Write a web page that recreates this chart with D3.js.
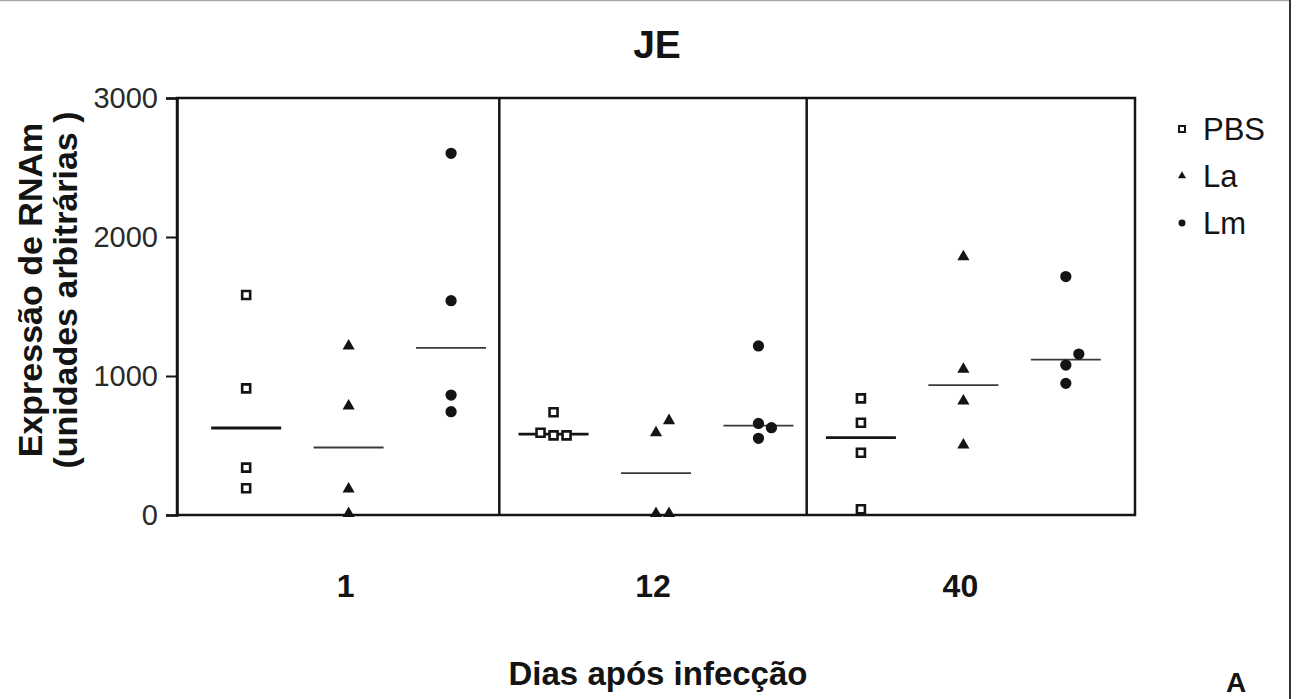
<!DOCTYPE html>
<html>
<head>
<meta charset="utf-8">
<script src="https://cdn.jsdelivr.net/npm/d3@7"></script>
<style>
  html, body { margin: 0; padding: 0; background: #fff; }
  svg { display: block; font-family: "Liberation Sans", Arial, sans-serif; }
</style>
</head>
<body>
<div id="chart"></div>
<script>
// ── Data ────────────────────────────────────────────────────────────────
const days = ["1", "12", "40"];
const groups = ["PBS", "La", "Lm"];
// values per day (1, 12, 40)
const pbsValues = [[1583, 911, 341, 192], [739, 592, 573, 573], [839, 664, 448, 41]];
const laValues  = [[1216, 784, 187, 10], [679, 592, 10, 10], [1858, 1048, 820, 504]];
const lmValues  = [[2602, 1542, 863, 743], [1216, 659, 628, 552], [1715, 1158, 1079, 947]];
const yTicks = [0, 1000, 2000, 3000];

// ── Palette & layout ────────────────────────────────────────────────────
const INK = "#141414";
const W = 1301, H = 699;
const plot = { left: 177, right: 1135, top: 98, bottom: 515 };

const seriesValues = { PBS: pbsValues, La: laValues, Lm: lmValues };
const symbolType = { PBS: d3.symbolSquare, La: d3.symbolTriangle, Lm: d3.symbolCircle };

const svg = d3.select("#chart").append("svg")
  .attr("width", W).attr("height", H);

// figure border (scan frame)
svg.append("line").attr("x1", 0).attr("x2", 1290).attr("y1", 0.5).attr("y2", 0.5)
  .attr("stroke", "#aaa").attr("stroke-width", 1.5);
svg.append("line").attr("x1", 1290).attr("x2", 1290).attr("y1", 0).attr("y2", H)
  .attr("stroke", "#333").attr("stroke-width", 2);

// ── Scales ──────────────────────────────────────────────────────────────
const columns = [];
days.forEach(d => groups.forEach(g => columns.push(d + "|" + g)));

const x = d3.scalePoint().domain(columns)
  .range([plot.left, plot.right]).padding(0.675);

const y = d3.scaleLinear().domain([0, 3000])
  .range([plot.bottom, plot.top]);

// ── Title ───────────────────────────────────────────────────────────────
svg.append("text")
  .attr("x", 657).attr("y", 58)
  .attr("text-anchor", "middle")
  .attr("fill", INK).style("font-size", "39px").style("font-weight", "bold")
  .text("JE");

// ── Plot frame & dividers ───────────────────────────────────────────────
svg.append("rect")
  .attr("x", plot.left).attr("y", plot.top)
  .attr("width", plot.right - plot.left).attr("height", plot.bottom - plot.top)
  .attr("fill", "none").attr("stroke", INK).attr("stroke-width", 2.5);

days.slice(0, -1).forEach((d, i) => {
  const xa = x(d + "|Lm"), xb = x(days[i + 1] + "|PBS");
  const xm = (xa + xb) / 2 - 3;
  svg.append("line")
    .attr("x1", xm).attr("x2", xm).attr("y1", plot.top).attr("y2", plot.bottom)
    .attr("stroke", INK).attr("stroke-width", 2.5);
});

// ── Y axis ──────────────────────────────────────────────────────────────
const yAxis = svg.append("g")
  .attr("transform", `translate(${plot.left},0)`)
  .call(d3.axisLeft(y).tickValues(yTicks).tickSize(11).tickPadding(8).tickFormat(d3.format("d")));
yAxis.select(".domain").attr("stroke", INK).attr("stroke-width", 2.5);
yAxis.selectAll(".tick line").attr("stroke", INK).attr("stroke-width", 2);
yAxis.selectAll(".tick text")
  .attr("fill", "#2a2a2a")
  .style("font-size", "29px")
  .style("font-family", "'Liberation Sans', Arial, sans-serif");

// Y-axis title (two lines)
const yTitle = svg.append("text")
  .attr("transform", "translate(0,290) rotate(-90)")
  .attr("text-anchor", "middle")
  .attr("fill", INK).style("font-size", "34px").style("font-weight", "bold");
yTitle.append("tspan").attr("x", 0).attr("y", 42).text("Expressão de RNAm");
yTitle.append("tspan").attr("x", 0).attr("y", 77).text("(unidades arbitrárias )");

// ── Day labels ──────────────────────────────────────────────────────────
svg.selectAll(".day").data(days).enter().append("text")
  .attr("x", d => x(d + "|La") - 3)
  .attr("y", 597)
  .attr("text-anchor", "middle")
  .attr("fill", INK).style("font-size", "32px").style("font-weight", "bold")
  .text(d => d);

svg.append("text")
  .attr("x", 658).attr("y", 685)
  .attr("text-anchor", "middle")
  .attr("fill", INK).style("font-size", "33px").style("font-weight", "bold")
  .text("Dias após infecção");

svg.append("text")
  .attr("x", 1236).attr("y", 692)
  .attr("text-anchor", "middle")
  .attr("fill", INK).style("font-size", "28px").style("font-weight", "bold")
  .text("A");

// ── Points (simple dodge for overlapping values) ───────────────────────
const STEP = 13, MIN_D = 12.5;
function dodge(values) {
  const placed = [];
  values.slice().sort((a, b) => a - b).forEach(v => {
    const py = y(v);
    const tries = [0, STEP, -STEP, 2 * STEP, -2 * STEP];
    for (const dx of tries) {
      const clash = placed.some(p => Math.hypot(p.dx - dx, p.py - py) < MIN_D);
      if (!clash) { placed.push({ v, dx, py }); break; }
    }
  });
  return placed;
}

const symbolSize = { PBS: 64, La: 64, Lm: 100 };

days.forEach((d, di) => {
  groups.forEach(g => {
    const vals = seriesValues[g][di];
    const cx = x(d + "|" + g);
    const med = d3.median(vals);

    // median line
    svg.append("line")
      .attr("x1", cx - 35).attr("x2", cx + 35)
      .attr("y1", y(med)).attr("y2", y(med))
      .attr("stroke", g === "PBS" ? INK : "#3a3a3a")
      .attr("stroke-width", g === "PBS" ? 2.8 : 1.8);

    const pts = dodge(vals);
    svg.selectAll(null).data(pts).enter().append("path")
      .attr("transform", p => `translate(${cx + p.dx},${p.py})`)
      .attr("d", d3.symbol().type(symbolType[g]).size(symbolSize[g]))
      .attr("fill", g === "PBS" ? "#fff" : INK)
      .attr("stroke", g === "PBS" ? INK : "none")
      .attr("stroke-width", 2.6);
  });
});

// ── Legend ──────────────────────────────────────────────────────────────
const legend = svg.append("g").attr("transform", "translate(1182,129)");
const legendSize = { PBS: 36, La: 28, Lm: 38 };
groups.forEach((g, i) => {
  const row = legend.append("g").attr("transform", `translate(0,${i * 47})`);
  row.append("path")
    .attr("d", d3.symbol().type(symbolType[g]).size(legendSize[g]))
    .attr("fill", g === "PBS" ? "#fff" : INK)
    .attr("stroke", g === "PBS" ? INK : "none")
    .attr("stroke-width", 2);
  row.append("text")
    .attr("x", 21).attr("y", 0).attr("dy", "0.36em")
    .attr("fill", INK).style("font-size", "31px")
    .text(g);
});
</script>
</body>
</html>
